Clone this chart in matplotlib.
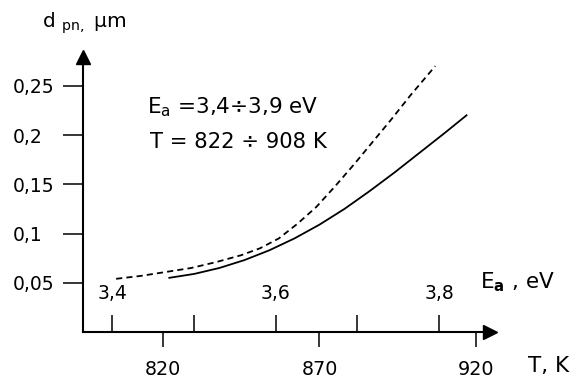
import matplotlib
matplotlib.use("Agg")
import matplotlib.pyplot as plt

# temperature (K) and p-n width (um)
t_solid = [822, 830, 838, 846, 854, 862, 870, 878, 886, 894, 902, 910, 917]
d_solid = [0.055, 0.059, 0.065, 0.073, 0.083, 0.095, 0.109, 0.125, 0.143,
           0.162, 0.182, 0.202, 0.220]

t_dash = [805, 813, 821, 829, 837, 845, 851, 857, 863, 869, 875, 881, 887,
          893, 899, 907]
d_dash = [0.054, 0.057, 0.061, 0.065, 0.071, 0.078, 0.085, 0.095, 0.110,
          0.127, 0.148, 0.170, 0.193, 0.216, 0.240, 0.270]

t_ticks = [820, 870, 920]
t_labels = ["820", "870", "920"]
d_ticks = [0.05, 0.1, 0.15, 0.2, 0.25]
d_labels = ["0,05", "0,1", "0,15", "0,2", "0,25"]
ea_ticks = [3.4, 3.5, 3.6, 3.7, 3.8]
ea_labels = ["3,4", "", "3,6", "", "3,8"]

# where the Ea scale sits against the T scale
ea_ref = (3.4, 3.8)
t_ref = (803.7, 908.2)

t_lim = (794.4, 924.5)
d_lim = (0, 0.2792)


def t2ea(t):
    return ea_ref[0] + (t - t_ref[0]) * (ea_ref[1] - ea_ref[0]) / (t_ref[1] - t_ref[0])


fig = plt.figure(figsize=(5.77, 3.78), dpi=100)
ax = fig.add_axes([0.1438, 0.1217, 0.7054, 0.7275])

ax.plot(t_solid, d_solid, color="black", lw=1.3)
ax.plot(t_dash, d_dash, color="black", lw=1.3, linestyle=(0, (3.4, 2.3)))

ax.set_xlim(*t_lim)
ax.set_ylim(*d_lim)
for s in ["top", "right"]:
    ax.spines[s].set_visible(False)
for s in ["left", "bottom"]:
    ax.spines[s].set_linewidth(1.5)

ax.set_xticks(t_ticks, t_labels)
ax.set_yticks(d_ticks, d_labels)
ax.tick_params(axis="x", direction="out", length=11, width=1.1, pad=9, labelsize=13.8)
ax.tick_params(axis="y", direction="out", length=14.4, width=1.1, pad=36, labelsize=13.5)
for lbl in ax.get_yticklabels():
    lbl.set_horizontalalignment("left")

# Ea scale, ticks pointing up from the T axis
ax2 = ax.twiny()
ax2.set_xlim(t2ea(t_lim[0]), t2ea(t_lim[1]))
for s in ax2.spines.values():
    s.set_visible(False)
ax2.spines["top"].set_position(("axes", 0))
ax2.xaxis.set_ticks_position("top")
ax2.set_xticks(ea_ticks, ea_labels)
ax2.tick_params(axis="x", direction="out", length=12, width=1.1, pad=9, labelsize=13.5)
ax2.yaxis.set_visible(False)

# arrow heads
ax.plot(1, 0, ">k", ms=10, transform=ax.transAxes, clip_on=False)
ax.plot(0, 1, "^k", ms=10, transform=ax.transAxes, clip_on=False)

fig.text(0.073, 0.926, r"d $_{\rm pn,}$ μm", fontsize=14.5)
fig.text(0.2548, 0.701, r"E$_{\rm a}$ =3,4÷3,9 eV", fontsize=15.5)
fig.text(0.26, 0.6085, "T = 822 ÷ 908 K", fontsize=15.2)
fig.text(0.832, 0.238, r"E$_{\bf a}$ , eV", fontsize=15.5)
fig.text(0.915, 0.016, "T, K", fontsize=15.5)

fig.savefig("out.png", dpi=100)
